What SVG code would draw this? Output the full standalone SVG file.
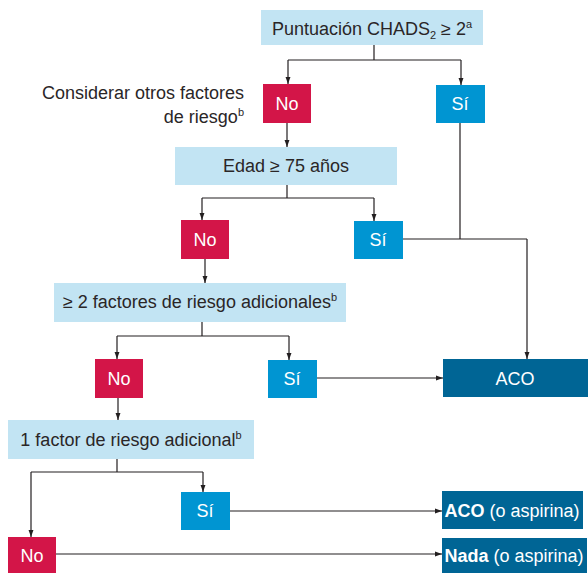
<svg xmlns="http://www.w3.org/2000/svg" width="588" height="573" viewBox="0 0 588 573">
<defs>
<marker id="ah" markerWidth="7" markerHeight="10" refX="10" refY="3.5" orient="auto" markerUnits="userSpaceOnUse" viewBox="0 0 10 7">
<path d="M0,0 L10,3.5 L0,7 Z" fill="#231f20"/>
</marker>
<style>
.q{fill:#c2e4f3}
.no{fill:#d31548}
.si{fill:#0095d2}
.out{fill:#006595}
text{font-family:"Liberation Sans",Arial,sans-serif;font-size:18px}
.dk{fill:#2a2627}
.wt{fill:#ffffff}
.c{text-anchor:middle}
.ln{fill:none;stroke:#231f20;stroke-width:1.2}
.ar{marker-end:url(#ah)}
</style>
</defs>
<rect width="588" height="573" fill="#ffffff"/>
<g id="connectors">
<path class="ln" d="M374,45 V60 M288,60 H461"/>
<path class="ln ar" d="M288,60 V84"/>
<path class="ln ar" d="M461,60 V85"/>
<path class="ln ar" d="M287,122 V147"/>
<path class="ln" d="M287,185 V198 M202,198 H374"/>
<path class="ln ar" d="M202,198 V220"/>
<path class="ln ar" d="M374,198 V221"/>
<path class="ln" d="M460,123 V239 M403,239 H527"/>
<path class="ln ar" d="M527,239 V359"/>
<path class="ln ar" d="M205,259 V283"/>
<path class="ln" d="M202,322 V336 M117,336 H289"/>
<path class="ln ar" d="M117,336 V359"/>
<path class="ln ar" d="M289,336 V360"/>
<path class="ln ar" d="M317,378 H443"/>
<path class="ln ar" d="M118,398 V420"/>
<path class="ln" d="M117,459 V472 M31,472 H203"/>
<path class="ln ar" d="M203,472 V492"/>
<path class="ln ar" d="M31,472 V537"/>
<path class="ln ar" d="M230,511 H442"/>
<path class="ln ar" d="M56,554 H442"/>
</g>
<g id="n_chads">
<rect class="q" x="261" y="10" width="222" height="35"/>
<text class="dk c" x="372" y="35">Puntuación CHADS<tspan font-size="11" dy="4">2</tspan><tspan dy="-4"> ≥ 2</tspan><tspan font-size="11" dy="-7">a</tspan></text>
</g>
<g id="n_consider">
<text class="dk" x="244" y="99" text-anchor="end">Considerar otros factores</text>
<text class="dk" x="244" y="123" text-anchor="end">de riesgo<tspan font-size="11" dy="-7">b</tspan></text>
</g>
<g id="n_no1">
<rect class="no" x="263" y="84" width="48" height="39"/>
<text class="wt c" x="287" y="110">No</text>
</g>
<g id="n_si1">
<rect class="si" x="436" y="85" width="49" height="38"/>
<text class="wt c" x="460" y="110">Sí</text>
</g>
<g id="n_edad">
<rect class="q" x="175" y="147" width="222" height="38"/>
<text class="dk c" x="286" y="172">Edad ≥ 75 años</text>
</g>
<g id="n_no2">
<rect class="no" x="181" y="220" width="48" height="39"/>
<text class="wt c" x="205" y="246">No</text>
</g>
<g id="n_si2">
<rect class="si" x="354" y="221" width="49" height="38"/>
<text class="wt c" x="378" y="246">Sí</text>
</g>
<g id="n_f2">
<rect class="q" x="54" y="283" width="292" height="39"/>
<text class="dk c" x="200" y="308">≥ 2 factores de riesgo adicionales<tspan font-size="11" dy="-7">b</tspan></text>
</g>
<g id="n_no3">
<rect class="no" x="95" y="359" width="48" height="39"/>
<text class="wt c" x="119" y="385">No</text>
</g>
<g id="n_si3">
<rect class="si" x="268" y="360" width="49" height="38"/>
<text class="wt c" x="292" y="385">Sí</text>
</g>
<g id="n_aco">
<rect class="out" x="443" y="359" width="145" height="38"/>
<text class="wt c" x="515" y="385">ACO</text>
</g>
<g id="n_f1">
<rect class="q" x="8" y="420" width="246" height="39"/>
<text class="dk c" x="131" y="446">1 factor de riesgo adicional<tspan font-size="11" dy="-7">b</tspan></text>
</g>
<g id="n_si4">
<rect class="si" x="181" y="492" width="49" height="38"/>
<text class="wt c" x="205" y="517">Sí</text>
</g>
<g id="n_no4">
<rect class="no" x="8" y="537" width="48" height="38"/>
<text class="wt c" x="32" y="562">No</text>
</g>
<g id="n_aco_asp">
<rect class="out" x="442" y="491" width="141" height="38"/>
<text class="wt c" x="512" y="517"><tspan font-weight="bold">ACO</tspan> (o aspirina)</text>
</g>
<g id="n_nada">
<rect class="out" x="442" y="538" width="145" height="35"/>
<text class="wt c" x="514" y="562"><tspan font-weight="bold">Nada</tspan> (o aspirina)</text>
</g>
</svg>
